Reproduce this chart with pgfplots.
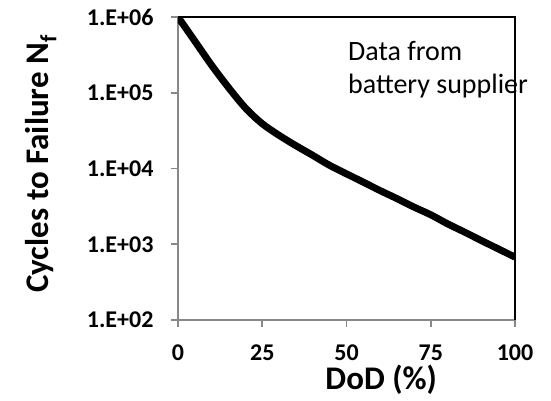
\documentclass[border=0pt]{standalone}
\usepackage{pgfplots}
\pgfplotsset{compat=1.18}
\usetikzlibrary{calc}
\usepackage{fontspec}
\setmainfont{Carlito}
\definecolor{axgray}{RGB}{136,136,136}
\begin{document}
\begin{tikzpicture}[x=1pt,y=1pt]
\begin{axis}[
  name=ax,
  scale only axis,
  width=337pt, height=303pt,
  xmin=0, xmax=100,
  ymode=log, ymin=1e2, ymax=1e6,
  axis lines*=left,
  axis line style={draw=axgray, line width=2pt},
  separate axis lines,
  x axis line style={-}, y axis line style={-},
  xtick={0,25,50,75,100},
  xticklabels={0,25,50,75,100},
  ytick={1e2,1e3,1e4,1e5,1e6},
  yticklabels={1.E+02,1.E+03,1.E+04,1.E+05,1.E+06},
  minor ytick={}, 
  yminorticks=false,
  tick align=outside,
  major tick length=7pt,
  tick style={draw=axgray, line width=1.6pt},
  ticklabel style={font=\fontsize{24}{28}\selectfont\bfseries},
  yticklabel style={anchor=east, xshift=-14pt},
  xticklabel style={anchor=north, yshift=-14pt},
  xlabel={DoD (\%)},
  ylabel={Cycles to Failure N\textsubscript{f}},
  label style={font=\fontsize{33}{36}\selectfont\bfseries},
  xlabel style={at={(rel axis cs:0.603,0)}, anchor=base, yshift=-69pt},
  ylabel style={at={(rel axis cs:0,0.515)}, anchor=base, yshift=129pt},
  clip=true,
]
\addplot[black, line width=7pt, line join=round, smooth, tension=0.5] coordinates {
(0,1.0e6) (5,4.8e5) (10,2.3e5) (15,1.17e5) (20,6.3e4) (25,3.9e4) (30,2.74e4)
(35,2.0e4) (40,1.49e4) (45,1.1e4) (50,8.5e3) (55,6.6e3) (60,5.1e3) (65,4.0e3)
(70,3.1e3) (75,2.45e3) (80,1.86e3) (85,1.45e3) (90,1.12e3) (95,870) (100,676)
};
\coordinate (bl) at (rel axis cs:0,0);
\coordinate (tr) at (rel axis cs:1,1);
\coordinate (tl) at (rel axis cs:0,1);
\coordinate (br) at (rel axis cs:1,0);
\end{axis}
\draw[black, line width=1.4pt] (tl) -- (tr) -- (br);
\node[anchor=base west, font=\fontsize{28}{32}\selectfont, inner sep=0pt]
  at ($(tl)+(170pt,-43pt)$) {Data from};
\node[anchor=base west, font=\fontsize{28}{32}\selectfont, inner sep=0pt]
  at ($(tl)+(170pt,-76pt)$) {battery supplier};
\pgfresetboundingbox
\path[use as bounding box] ($(bl)+(-178pt,-80pt)$) rectangle ($(tr)+(36pt,17pt)$);
\end{tikzpicture}
\end{document}
